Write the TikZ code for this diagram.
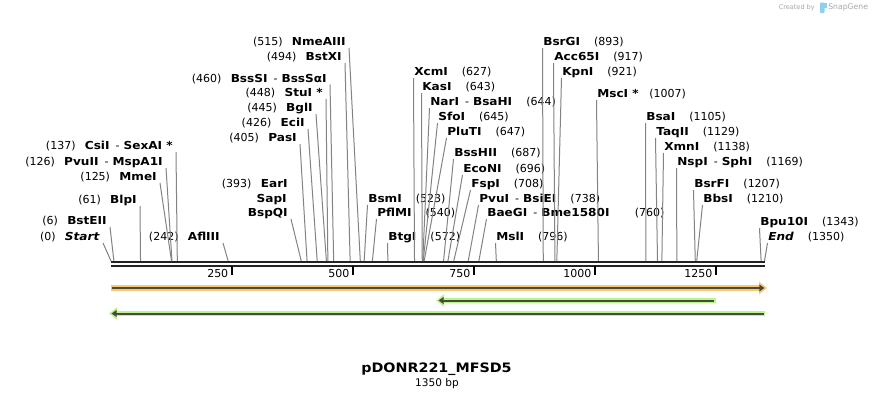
\documentclass[tikz,border=0pt]{standalone}
\usepackage{fontspec}
\setmainfont{DejaVu Sans}[BoldFeatures={FakeStretch=1.1},BoldItalicFeatures={FakeStretch=1.1}]
\usetikzlibrary{arrows.meta}

\definecolor{featorange}{HTML}{FAC873}
\definecolor{featgreen}{HTML}{B8F58A}
\definecolor{featdark}{HTML}{4A4A3C}
\definecolor{cutgray}{HTML}{838383}
\definecolor{bbblack}{HTML}{222222}
\definecolor{markgray}{HTML}{A8A8A8}
\definecolor{markblue}{HTML}{8FD0F2}

% position on the map, in px from the left
\newcommand{\sitex}[1]{111+0.48407*#1}
\newcommand{\lgap}{\hspace{7pt}}
\newcommand{\rgap}{\hspace{10.5pt}}
\newcommand{\enzsep}{\hspace{4.5pt}-\hspace{3pt}}

\begin{document}
\begin{tikzpicture}[x=0.75pt,y=-0.75pt,
  every node/.style={font=\fontsize{8.25}{10}\selectfont},
  labl/.style={anchor=south east, inner xsep=2.25pt, inner ysep=0pt, text height=6pt, text depth=1.5pt},
  labr/.style={anchor=south west, inner xsep=0.4pt, inner ysep=0pt, text height=6pt, text depth=1.5pt},
  cutline/.style={draw=cutgray, line width=0.75pt},
  tickmark/.style={draw=black, line width=1.5pt},
  featband/.style={line width=4.4pt},
  featline/.style={draw=featdark, line width=1.5pt}
]
\fill[white] (0,0) rectangle (876,400);
\useasboundingbox (0,0) rectangle (876,400);

% cut sites on the backbone
\foreach \p in {0,6,61,125,126,137,242,393,405,426,445,448,460,494,515,523,540,572,
  627,643,644,645,647,687,696,708,738,760,796,893,917,921,1007,1105,1129,1138,
  1169,1207,1210,1343,1350}
  \coordinate (s\p) at ({\sitex{\p}},261);

% backbone
\coordinate (bbl) at (111,262.2);
\coordinate (bbr) at (765,262.2);
\draw[draw=bbblack, line width=1.8pt] (bbl) -- (bbr);
\draw[draw=bbblack, line width=1.5pt] ([yshift=-2.85pt]bbl) -- ([yshift=-2.85pt]bbr);

\foreach \t in {250,500,750,1000,1250} {
  \draw[tickmark] ({\sitex{\t}},266) -- ({\sitex{\t}},274.5);
  \node[anchor=east, inner sep=0pt] (tk\t) at ({\sitex{\t}-3.5},273) {\t};
}

% labels left of their cut
\begin{scope}[every node/.append style={labl}]
\node (start) at (103,243) {(0)\lgap\textbf{\textit{Start}}};
\node (bste) at (110,227) {(6)\lgap\textbf{BstEII}};
\node (blp) at (140,206) {(61)\lgap\textbf{BlpI}};
\node (mme) at (160,183) {(125)\lgap\textbf{MmeI}};
\node (pvutwo) at (166,168) {(126)\lgap\textbf{PvuII}\enzsep\textbf{MspA1I}};
\node (csi) at (176,152) {(137)\lgap\textbf{CsiI}\enzsep\textbf{SexAI *}};
\node (aflthree) at (223,243) {(242)\lgap\textbf{AflIII}};
\node (ear) at (291,190) {(393)\lgap\textbf{EarI}};
\node (sap) at (290,205) {\textbf{SapI}};
\node (bspq) at (291,219) {\textbf{BspQI}};
\node (pas) at (300,144) {(405)\lgap\textbf{PasI}};
\node (eci) at (308,129) {(426)\lgap\textbf{EciI}};
\node (bgl) at (316,114) {(445)\lgap\textbf{BglI}};
\node (stu) at (326,99) {(448)\lgap\textbf{StuI *}};
\node (bsss) at (330,84.5) {(460)\lgap\textbf{BssSI}\enzsep\textbf{BssSαI}};
\node (bstx) at (345,63) {(494)\lgap\textbf{BstXI}};
\node (nme) at (349,48) {(515)\lgap\textbf{NmeAIII}};
\end{scope}

% labels right of their cut
\begin{scope}[every node/.append style={labr}]
\node (bsm) at (367.5,205) {\textbf{BsmI}\rgap(523)};
\node (pflm) at (376.5,219) {\textbf{PflMI}\rgap(540)};
\node (btg) at (387.5,243) {\textbf{BtgI}\rgap(572)};
\node (xcm) at (413.5,78) {\textbf{XcmI}\rgap(627)};
\node (kas) at (421.5,93) {\textbf{KasI}\rgap(643)};
\node (nar) at (429.5,108) {\textbf{NarI}\enzsep\textbf{BsaHI}\rgap(644)};
\node (sfo) at (437.5,123) {\textbf{SfoI}\rgap(645)};
\node (plut) at (446.5,138) {\textbf{PluTI}\rgap(647)};
\node (bsshii) at (453.5,159) {\textbf{BssHII}\rgap(687)};
\node (econ) at (462.5,175) {\textbf{EcoNI}\rgap(696)};
\node (fsp) at (470.5,190) {\textbf{FspI}\rgap(708)};
\node (pvuone) at (478.5,205) {\textbf{PvuI}\enzsep\textbf{BsiEI}\rgap(738)};
\node (baeg) at (486.5,219) {\textbf{BaeGI}\enzsep\textbf{Bme1580I}\hspace{19pt}(760)};
\node (msl) at (495.5,243) {\textbf{MslI}\rgap(796)};
\node (bsrg) at (542.5,48) {\textbf{BsrGI}\rgap(893)};
\node (acc) at (553.5,63) {\textbf{Acc65I}\rgap(917)};
\node (kpn) at (561.5,78) {\textbf{KpnI}\rgap(921)};
\node (msc) at (596.5,100) {\textbf{MscI *}\hspace{8pt}(1007)};
\node (bsa) at (645.5,123) {\textbf{BsaI}\rgap(1105)};
\node (taq) at (655.5,138) {\textbf{TaqII}\rgap(1129)};
\node (xmn) at (663.5,153) {\textbf{XmnI}\rgap(1138)};
\node (nsp) at (676.5,168) {\textbf{NspI}\enzsep\textbf{SphI}\rgap(1169)};
\node (bsrf) at (693.5,190) {\textbf{BsrFI}\rgap(1207)};
\node (bbs) at (702.5,205) {\textbf{BbsI}\rgap(1210)};
\node (bpu) at (759.5,228) {\textbf{Bpu10I}\rgap(1343)};
\node (stop) at (767.5,243) {\textbf{\textit{End}}\rgap(1350)};
\end{scope}

\foreach \n/\p in {start/0,bste/6,blp/61,mme/125,pvutwo/126,csi/137,aflthree/242,
  bspq/393,pas/405,eci/426,bgl/445,stu/448,bsss/460,bstx/494,nme/515}
  \draw[cutline] (\n.south east) -- (s\p);
\foreach \n/\p in {bsm/523,pflm/540,btg/572,xcm/627,kas/643,nar/644,sfo/645,plut/647,
  bsshii/687,econ/696,fsp/708,pvuone/738,baeg/760,msl/796,bsrg/893,acc/917,kpn/921,
  msc/1007,bsa/1105,taq/1129,xmn/1138,nsp/1169,bsrf/1207,bbs/1210,bpu/1343,stop/1350}
  \draw[cutline] (\n.south west) -- (s\p);

% features
\draw[featband, draw=featorange, -{Triangle[length=6pt,width=9pt]}] (111,288) -- (767,288);
\draw[featline, -{Triangle[length=3.8pt,width=5pt]}] (112,288) -- (764.5,288);
\draw[featband, draw=featgreen, -{Triangle[length=6pt,width=9pt]}] (715.5,300.5) -- (436,300.5);
\draw[featline, -{Triangle[length=3.8pt,width=5pt]}] (713.5,300.5) -- (438.5,300.5);
\draw[featband, draw=featgreen, -{Triangle[length=6pt,width=9pt]}] (765,313.5) -- (109,313.5);
\draw[featline, -{Triangle[length=3.8pt,width=5pt]}] (763.5,313.5) -- (111.5,313.5);

% name and size
\node[font=\bfseries\fontsize{9.75}{12}\selectfont] (title) at (436.5,369) {pDONR221\_MFSD5};
\node[font=\fontsize{7.9}{10}\selectfont] (size) at (437,383.5) {1350 bp};

% maker mark
\node[text=markgray, font=\fontsize{4.9}{6}\selectfont, anchor=east, inner sep=0pt] (made) at (815,7.5) {Created by};
\fill[markblue, rounded corners=0.6pt] (820,2.5) rectangle (824.5,13);
\fill[markblue] (820,2.5) rectangle (826.5,8);
\node[text=markgray, font=\fontsize{5.8}{7}\selectfont, anchor=west, inner sep=0pt] (snap) at (828,7.5) {SnapGene};
\end{tikzpicture}
\end{document}
